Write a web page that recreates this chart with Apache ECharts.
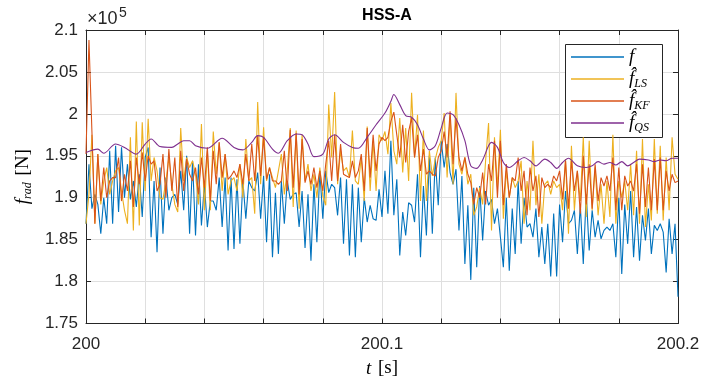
<!DOCTYPE html>
<html>
<head>
<meta charset="utf-8">
<script src="https://cdn.jsdelivr.net/npm/echarts@6/dist/echarts.min.js"></script>
<style>html,body{margin:0;padding:0;background:#fff}#main{width:717px;height:383px}</style>
</head>
<body>
<div id="main"></div>
<script>
// sample times: 1 kHz from t = 200 s
var t0 = 200, dt = 0.001;

// measured force f (x10^5 N)
var fTrue = [1.869,1.940,1.887,1.904,1.892,1.857,1.900,1.869,1.956,1.869,
 1.962,1.883,1.960,1.900,1.940,1.898,1.920,1.889,1.928,1.877,
 1.948,1.960,1.853,1.920,1.835,1.936,1.857,1.924,1.885,1.900,
 1.904,1.892,1.932,1.885,1.950,1.857,1.944,1.855,1.940,1.867,
 1.916,1.865,1.896,1.896,1.885,1.924,1.865,1.924,1.837,1.924,
 1.839,1.922,1.845,1.920,1.875,1.920,1.912,1.908,1.930,1.875,
 1.926,1.847,1.928,1.829,1.906,1.833,1.920,1.869,1.920,1.898,
 1.904,1.906,1.865,1.908,1.840,1.904,1.825,1.916,1.847,1.932,
 1.875,1.932,1.906,1.916,1.912,1.879,1.924,1.845,1.922,1.831,
 1.916,1.829,1.912,1.847,1.900,1.871,1.891,1.875,1.873,1.910,
 1.877,1.932,1.881,1.968,1.879,1.922,1.831,1.883,1.855,1.894,
 1.891,1.871,1.928,1.829,1.914,1.855,1.950,1.857,1.948,1.891,
 1.968,1.936,1.964,1.930,1.916,1.934,1.861,1.926,1.821,1.891,
 1.802,1.912,1.817,1.914,1.849,1.908,1.891,1.898,1.869,1.887,
 1.853,1.817,1.900,1.813,1.887,1.833,1.920,1.845,1.900,1.865,
 1.869,1.853,1.887,1.829,1.865,1.821,1.869,1.806,1.881,1.806,
 1.892,1.847,1.908,1.869,1.873,1.885,1.833,1.891,1.821,1.904,
 1.837,1.885,1.853,1.873,1.851,1.861,1.865,1.861,1.869,1.829,
 1.900,1.809,1.892,1.845,1.908,1.829,1.889,1.825,1.879,1.849,
 1.887,1.833,1.867,1.861,1.869,1.859,1.811,1.875,1.833,1.869,
 1.782];

// least squares estimate
var fLS = [1.869,1.904,1.975,1.869,1.952,1.892,1.920,1.936,1.904,1.920,
 1.932,1.936,1.908,1.885,1.869,1.972,1.861,1.991,1.867,1.990,
 1.908,1.994,1.920,1.948,1.932,1.900,1.898,1.920,1.948,1.916,
 1.892,1.883,1.983,1.920,1.948,1.936,1.944,1.928,1.892,1.988,
 1.885,1.956,1.885,1.979,1.928,1.966,1.908,1.952,1.904,1.920,
 1.924,1.908,1.940,1.900,1.970,1.920,1.924,1.881,2.014,1.916,
 1.984,1.920,1.936,1.924,1.912,1.932,1.952,1.904,1.932,1.983,
 1.889,1.980,1.887,1.975,1.920,1.940,1.908,1.928,1.900,1.936,
 1.902,1.891,2.011,1.948,2.026,1.916,1.956,1.932,1.936,1.924,
 1.980,1.920,1.916,1.948,1.896,1.985,1.908,1.968,1.908,1.975,
 1.968,1.979,1.952,2.013,1.956,1.940,1.995,1.930,1.983,1.920,
 2.025,1.948,1.999,1.896,1.980,1.896,1.956,1.926,1.946,1.960,
 1.968,2.001,1.924,1.999,1.916,2.025,1.940,1.928,1.948,1.916,
 1.928,1.879,1.889,1.912,1.892,1.944,1.989,1.861,1.972,1.912,
 1.981,1.875,1.932,1.900,1.924,1.912,1.920,1.944,1.869,1.920,
 1.885,1.968,1.891,1.928,1.869,1.916,1.920,1.904,1.920,1.912,
 1.916,1.885,1.946,1.857,1.962,1.885,1.932,1.896,1.972,1.877,
 1.968,1.885,1.936,1.879,1.916,1.869,1.920,1.877,1.975,1.869,
 1.920,1.900,1.920,1.885,1.940,1.879,1.956,1.869,1.970,1.865,
 1.916,1.873,1.970,1.881,1.962,1.873,1.948,1.885,1.972,1.928,
 1.922];

// Kalman filter estimate
var fKF = [1.952,2.088,1.979,1.869,1.952,1.896,1.936,1.900,1.920,1.924,
 1.924,1.948,1.896,1.928,1.908,1.944,1.889,1.948,1.916,1.954,
 1.920,1.950,1.940,1.944,1.908,1.916,1.952,1.900,1.958,1.908,
 1.948,1.889,1.956,1.908,1.946,1.928,1.920,1.936,1.904,1.948,
 1.912,1.960,1.896,1.956,1.916,1.966,1.924,1.952,1.922,1.926,
 1.932,1.924,1.940,1.916,1.952,1.920,1.964,1.920,1.974,1.926,
 1.972,1.922,1.936,1.920,1.920,1.916,1.920,1.956,1.908,1.981,
 1.912,1.977,1.904,1.970,1.918,1.932,1.916,1.936,1.912,1.932,
 1.908,1.940,1.968,1.920,1.975,1.920,1.964,1.928,1.926,1.924,
 1.944,1.924,1.932,1.952,1.908,1.983,1.924,1.975,1.932,1.964,
 1.972,1.968,1.972,1.991,2.002,1.975,1.948,1.987,1.942,1.979,
 1.995,1.948,1.975,1.932,1.958,1.928,1.932,1.928,1.926,1.948,
 1.956,1.979,1.948,2.003,1.940,1.995,1.948,1.932,1.948,1.928,
 1.918,1.892,1.912,1.900,1.930,1.892,1.940,1.920,1.968,1.900,
 1.968,1.891,1.940,1.900,1.924,1.920,1.948,1.908,1.932,1.879,
 1.936,1.908,1.926,1.877,1.924,1.912,1.916,1.912,1.926,1.920,
 1.932,1.898,1.944,1.887,1.944,1.908,1.932,1.881,1.950,1.892,
 1.940,1.887,1.940,1.896,1.924,1.914,1.926,1.908,1.948,1.885,
 1.936,1.885,1.926,1.914,1.920,1.908,1.940,1.881,1.940,1.889,
 1.936,1.885,1.946,1.885,1.948,1.885,1.932,1.908,1.928,1.918,
 1.920];

// quasi-static estimate (smooth, read at fewer times)
var qsTime = [200.000,200.004,200.006,200.010,200.013,200.017,200.020,200.022,200.025,200.029,
 200.031,200.033,200.035,200.037,200.041,200.046,200.050,200.053,200.056,200.058,
 200.060,200.063,200.065,200.068,200.071,200.073,200.075,200.077,200.080,200.082,
 200.084,200.087,200.090,200.092,200.095,200.098,200.101,200.103,200.104,200.106,
 200.108,200.110,200.112,200.114,200.116,200.118,200.120,200.122,200.124,200.126,
 200.128,200.130,200.132,200.134,200.136,200.137,200.139,200.141,200.143,200.146,
 200.148,200.150,200.152,200.155,200.157,200.159,200.161,200.163,200.166,200.169,
 200.171,200.173,200.175,200.177,200.179,200.181,200.183,200.185,200.187,200.190,
 200.192,200.194,200.196,200.198,200.200];
var fQS = [1.954,1.958,1.953,1.964,1.960,1.952,1.964,1.970,1.961,1.960,
 1.964,1.968,1.968,1.962,1.959,1.971,1.960,1.957,1.966,1.974,
 1.972,1.958,1.953,1.968,1.976,1.975,1.964,1.949,1.952,1.970,
 1.975,1.966,1.960,1.959,1.972,1.987,2.001,2.015,2.023,2.011,
 1.998,1.996,1.987,1.970,1.957,1.962,1.983,2.001,1.999,1.987,
 1.968,1.938,1.935,1.945,1.962,1.966,1.960,1.942,1.936,1.944,
 1.948,1.944,1.938,1.946,1.942,1.935,1.942,1.947,1.938,1.936,
 1.938,1.943,1.940,1.942,1.939,1.943,1.938,1.942,1.946,1.945,
 1.943,1.945,1.944,1.947,1.947];

var yTicks = [1.75, 1.8, 1.85, 1.9, 1.95, 2, 2.05, 2.1];
var xLabels = ['200', '200.1', '200.2'];

function withTime(arr) {
  return arr.map(function (v, i) { return [Math.round((t0 + i * dt) * 1000) / 1000, v]; });
}

var serif = 'Liberation Serif';
var richText = {
  it: { fontFamily: serif, fontStyle: 'italic', fontSize: 19, color: '#000', lineHeight: 22 },
  sub: { fontFamily: serif, fontStyle: 'italic', fontSize: 12, color: '#000', lineHeight: 12, verticalAlign: 'bottom' },
  rm: { fontFamily: serif, fontSize: 19, color: '#000', lineHeight: 22 }
};
var legendNames = {
  'f': '{it|f}',
  'f_LS': '{it|f\u0302}{sub|LS}',
  'f_KF': '{it|f\u0302}{sub|KF}',
  'f_QS': '{it|f\u0302}{sub|QS}'
};

var chart = echarts.init(document.getElementById('main'));
var axisCol = '#262626';
var option = {
  animation: false,
  backgroundColor: '#fff',
  title: {
    text: 'HSS-A', left: 382, top: 3, textAlign: 'center',
    textStyle: { fontFamily: 'Liberation Sans', fontSize: 16, fontWeight: 'bold', color: '#000' }
  },
  grid: { left: 86, right: 39, top: 30, bottom: 59 },
  legend: {
    orient: 'vertical', left: 571, top: 46, z: 5,
    icon: 'rect', itemWidth: 53, itemHeight: 1.5, itemGap: 0,
    padding: 0,
    textStyle: { rich: richText, lineHeight: 22 },
    formatter: function (n) { return legendNames[n]; },
    data: ['f', 'f_LS', 'f_KF', 'f_QS']
  },
  graphic: [
    { type: 'rect', left: 565, top: 44, z: 3,
      shape: { width: 97, height: 93 },
      style: { fill: '#fff', stroke: axisCol, lineWidth: 1 } },
    { type: 'text', left: 87, top: 10, style: { text: '\u00d710', fontFamily: 'Liberation Sans', fontSize: 18, fill: '#262626' } },
    { type: 'text', left: 119, top: 6, style: { text: '5', fontFamily: 'Liberation Sans', fontSize: 14, fill: '#262626' } }
  ],
  xAxis: [{
    type: 'value', min: 200, max: 200.2, interval: 0.02,
    name: '{it|t}  {rm|[s]}', nameLocation: 'middle', nameGap: 34,
    nameTextStyle: { rich: richText },
    axisLine: { show: true, onZero: false, lineStyle: { color: axisCol, width: 1 } },
    axisTick: { show: true, inside: true, length: 5, lineStyle: { color: axisCol } },
    axisLabel: {
      margin: 12, fontFamily: 'Liberation Sans', fontSize: 17, color: '#262626',
      formatter: function (v) {
        var s = String(Math.round(v * 10) / 10);
        return xLabels.indexOf(s) >= 0 && Math.abs(v * 10 - Math.round(v * 10)) < 1e-6 ? s : '';
      }
    },
    splitLine: { show: true, lineStyle: { color: '#dfdfdf', width: 1 } }
  }, {
    type: 'value', position: 'top', min: 200, max: 200.2, interval: 0.02,
    axisLine: { show: true, onZero: false, lineStyle: { color: axisCol, width: 1 } },
    axisTick: { show: true, inside: true, length: 5, lineStyle: { color: axisCol } },
    axisLabel: { show: false }, splitLine: { show: false }
  }],
  yAxis: [{
    type: 'value', min: 1.75, max: 2.1, interval: 0.05,
    name: '{it|f}{sub|rad}  {rm|[N]}', nameLocation: 'middle', nameGap: 50, nameRotate: 90,
    nameTextStyle: { rich: richText },
    axisLine: { show: true, onZero: false, lineStyle: { color: axisCol, width: 1 } },
    axisTick: { show: true, inside: true, length: 5, lineStyle: { color: axisCol } },
    axisLabel: {
      margin: 8, fontFamily: 'Liberation Sans', fontSize: 17, color: '#262626',
      formatter: function (v) {
        var r = Math.round(v * 100) / 100;
        return yTicks.indexOf(r) >= 0 ? String(r) : '';
      }
    },
    splitLine: { show: true, lineStyle: { color: '#dfdfdf', width: 1 } }
  }, {
    type: 'value', position: 'right', min: 1.75, max: 2.1, interval: 0.05,
    axisLine: { show: true, onZero: false, lineStyle: { color: axisCol, width: 1 } },
    axisTick: { show: true, inside: true, length: 5, lineStyle: { color: axisCol } },
    axisLabel: { show: false }, splitLine: { show: false }
  }],
  series: [
    { name: 'f', type: 'line', data: withTime(fTrue), symbol: 'none', color: '#0072BD', lineStyle: { width: 1.1 } },
    { name: 'f_LS', type: 'line', data: withTime(fLS), symbol: 'none', color: '#EDB120', lineStyle: { width: 1.1 } },
    { name: 'f_KF', type: 'line', data: withTime(fKF), symbol: 'none', color: '#D95319', lineStyle: { width: 1.1 } },
    { name: 'f_QS', type: 'line', data: qsTime.map(function (t, i) { return [t, fQS[i]]; }),
      symbol: 'none', smooth: 0.3, color: '#7E2F8E', lineStyle: { width: 1.1 } }
  ]
};
chart.setOption(option);
</script>
</body>
</html>
